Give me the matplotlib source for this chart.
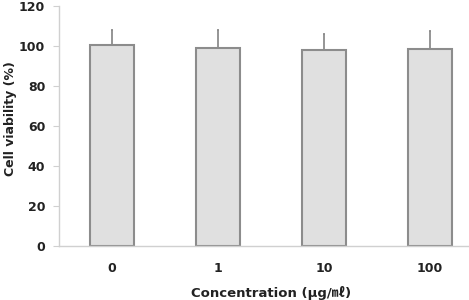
import matplotlib
matplotlib.use("Agg")
import matplotlib.pyplot as plt
import numpy as np

plt.rcParams['font.family'] = ['DejaVu Sans', 'Noto Sans CJK KR']

# data
concentrations = ['0', '1', '10', '100']
viability = [100.5, 99.0, 98.0, 98.5]
sd = [7.5, 9.0, 8.0, 9.0]

fig = plt.figure(figsize=(4.69, 3.0), dpi=100)
ax = fig.add_axes([0.126, 0.181, 0.904, 0.799])

x = np.arange(len(concentrations))
ax.bar(x, viability, width=0.42, color='#e0e0e0', edgecolor='#8c8c8c', linewidth=1.5, zorder=2)
ax.errorbar(x, viability, yerr=[np.zeros(len(sd)), sd], fmt='none',
            ecolor='#8c8c8c', elinewidth=1.3, capsize=1, capthick=1.3, zorder=1)

ax.set_xlim(-0.5, 3.5)
ax.set_ylim(0, 120)
ax.set_yticks(range(0, 121, 20))
ax.set_xticks(x)
ax.set_xticklabels(concentrations)

for s in ['top', 'right']:
    ax.spines[s].set_visible(False)
for s in ['left', 'bottom']:
    ax.spines[s].set_color('#d0d0d0')
    ax.spines[s].set_linewidth(1.0)

ax.tick_params(axis='y', length=4, color='#d0d0d0', labelsize=9, pad=6, labelcolor='#222222')
ax.tick_params(axis='x', length=0, labelsize=9, pad=12, labelcolor='#222222')
for lbl in ax.get_xticklabels() + ax.get_yticklabels():
    lbl.set_fontweight('bold')

ax.set_ylabel('Cell viability (%)', fontsize=9, fontweight='bold', color='#222222')
ax.yaxis.set_label_coords(-0.1, 0.53)
ax.set_xlabel('Concentration (μg/㎖)', fontsize=9.5, fontweight='bold', color='#222222', labelpad=8)

fig.savefig('out.png', dpi=100)
